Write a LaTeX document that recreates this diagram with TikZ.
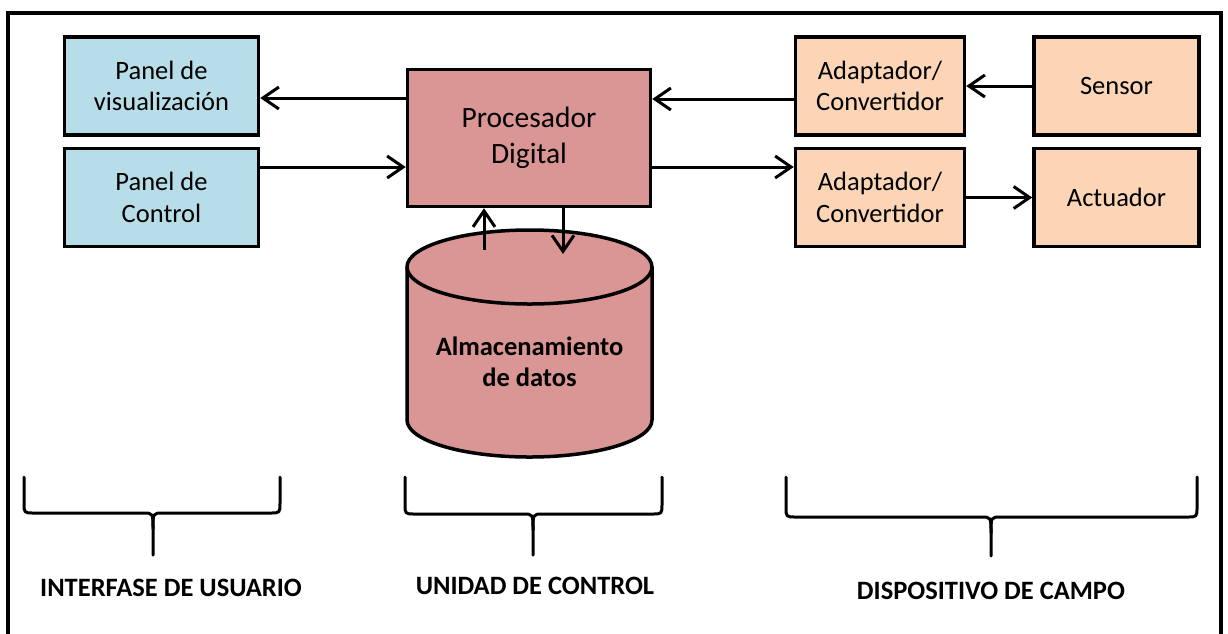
\documentclass[tikz,border=0pt]{standalone}
\usepackage{fontspec}
\setmainfont{Carlito}
\usetikzlibrary{arrows.meta}

\definecolor{paneblue}{HTML}{B7DEE8}
\definecolor{coreRose}{HTML}{D99694}
\definecolor{fieldPeach}{HTML}{FBD5B5}

% curly brace: left x, right x, tip x, top y, horizontal y, tip end y
\newcommand{\curlybrace}[6]{%
  \draw[bracestroke] (#1,#4) -- (#1,{#5-10}) .. controls (#1,#5) .. ({#1+10},#5)
    -- ({#3-10},#5) .. controls (#3,#5) .. (#3,{#5+16}) -- (#3,#6);
  \draw[bracestroke] (#2,#4) -- (#2,{#5-10}) .. controls (#2,#5) .. ({#2-10},#5)
    -- ({#3+10},#5) .. controls (#3,#5) .. (#3,{#5+16});
}

\begin{document}
\begin{tikzpicture}[x=1pt,y=-1pt,
  block/.style={draw=black,line width=3.5pt,minimum width=194pt,minimum height=98pt,
    align=center,font=\fontsize{26.5}{31.5}\selectfont,inner sep=0pt},
  uiblock/.style={block,fill=paneblue},
  fieldblock/.style={block,fill=fieldPeach,minimum width=169pt},
  flow/.style={line width=3pt,-{Straight Barb[length=16pt,width=22pt]}},
  bracestroke/.style={line width=3pt,line cap=round,line join=round},
  grouplabel/.style={font=\fontsize{26.5}{30}\selectfont\bfseries}]

\useasboundingbox (0,0) rectangle (1228,633);
\clip (0,0) rectangle (1228,633);
\fill[white] (0,0) rectangle (1228,633);

% outer frame
\draw[line width=3.5pt] (8,13) rectangle (1221,650);

% user interface panels
\node[uiblock] (vis) at (161.5,86) {Panel de\\visualización};
\node[uiblock] (ctrl) at (161.5,197.5) {Panel de\\Control};

% digital processor
\node[block,fill=coreRose,minimum width=243pt,minimum height=137pt,
  font=\fontsize{29.5}{35.5}\selectfont] (proc) at (529,138) {Procesador\\Digital};

% data storage cylinder
\fill[coreRose] (407,267) -- (407,420) arc[start angle=180,end angle=0,x radius=122.5,y radius=37]
  -- (652,267) arc[start angle=0,end angle=-180,x radius=122.5,y radius=37] -- cycle;
\draw[line width=3.5pt,line join=round] (407,267) -- (407,420)
  arc[start angle=180,end angle=0,x radius=122.5,y radius=37] -- (652,267);
\draw[line width=3.5pt] (529.5,267) ellipse[x radius=122.5,y radius=37];
\node[align=center,font=\fontsize{26.5}{31.5}\selectfont\bfseries] (store) at (529.5,362)
  {Almacenamiento\\de datos};
\coordinate (dbout) at (484,250);
\coordinate (dbin) at (563,254);

% field devices
\node[fieldblock] (ad1) at (880,86) {Adaptador/\\Convertidor};
\node[fieldblock] (ad2) at (880,197.5) {Adaptador/\\Convertidor};
\node[fieldblock,minimum width=165pt] (sen) at (1116.5,86) {Sensor};
\node[fieldblock,minimum width=165pt] (act) at (1116.5,197.5) {Actuador};

% signal flow
\draw[flow] (proc.west |- 0,98) -- (vis.east |- 0,98);
\draw[flow] (ctrl.east |- 0,167) -- (proc.west |- 0,167);
\draw[flow] (ad1.west |- 0,99) -- (proc.east |- 0,99);
\draw[flow] (proc.east |- 0,167) -- (ad2.west |- 0,167);
\draw[flow] (sen.west) -- (ad1.east);
\draw[flow] (ad2.east) -- (act.west);
\draw[flow] (dbout) -- (dbout |- proc.south);
\draw[flow] (dbin |- proc.south) -- (dbin);

% group braces and labels
\curlybrace{24}{280}{153}{477}{513}{555}
\curlybrace{405}{662}{533}{477}{514}{555}
\curlybrace{786}{1197}{991}{477}{517}{556}
\node[grouplabel] (lui) at (171,588) {INTERFASE DE USUARIO};
\node[grouplabel] (luc) at (535,586) {UNIDAD DE CONTROL};
\node[grouplabel] (ldc) at (991,591) {DISPOSITIVO DE CAMPO};
\end{tikzpicture}
\end{document}
